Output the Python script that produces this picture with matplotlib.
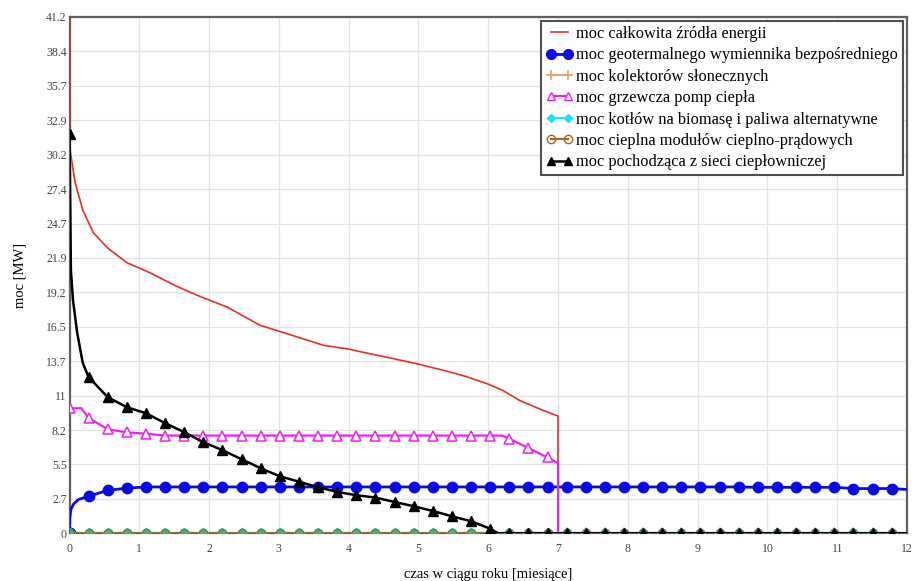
import numpy as np
import matplotlib
matplotlib.use("Agg")
import matplotlib.pyplot as plt
from matplotlib.lines import Line2D

plt.rcParams['font.family'] = ['Liberation Serif', 'DejaVu Serif']

# ---- axis setup -------------------------------------------------------------
x_ticks = list(range(0, 13))
y_tick_labels = ["0", "2.7", "5.5", "8.2", "11", "13.7", "16.5", "19.2",
                 "21.9", "24.7", "27.4", "30.2", "32.9", "35.7", "38.4", "41.2"]
y_max = 41.2

# markers are placed every 200 hours of an 8760-hour year (730 h per month)
marker_hours = np.arange(0, 8760, 200)
mark_x = marker_hours / 730.0

# ---- total heat demand (no markers) ----------------------------------------
total_x = [0, 0.003, 0.03, 0.08, 0.19, 0.34, 0.54, 0.82, 1.15, 1.54, 1.87,
           2.26, 2.73, 3.02, 3.3, 3.64, 4.0, 4.16, 4.59, 5.0, 5.4, 5.69, 6.0,
           6.21, 6.45, 6.79, 7.0, 7.0]
total_y = [41.2, 30.8, 29.8, 28.0, 25.8, 24.0, 22.8, 21.6, 20.8, 19.7, 18.9,
           18.05, 16.6, 16.1, 15.6, 15.0, 14.7, 14.5, 14.0, 13.5, 12.95, 12.5,
           11.9, 11.4, 10.6, 9.8, 9.35, 0]

# ---- geothermal exchanger ---------------------------------------------------
geo_mark = ([0, 2.96, 3.43, 3.6] + [3.7] * 32 + [3.67] * 5 + [3.57] * 3)
geo_extra_x = [0.004, 0.02, 0.06, 0.13, 12.0]
geo_extra_y = [1.2, 1.9, 2.35, 2.7, 3.5]

# ---- heat pumps -------------------------------------------------------------
hp_mark = ([9.98, 9.2, 8.3, 8.05, 7.95] + [7.8] * 18 +
           [7.55, 6.8, 6.05] + [0] * 18)
hp_extra_x = [0.17, 6.2, 7.0, 7.0, 12.0]
hp_extra_y = [9.98, 7.8, 5.6, 0, 0]

# ---- district heating network -----------------------------------------------
net_mark = ([31.9, 12.46, 10.86, 10.06, 9.58, 8.79, 8.07, 7.27, 6.63, 5.91,
             5.19, 4.55, 4.12, 3.68, 3.3, 3.04, 2.85, 2.5, 2.16, 1.78, 1.36,
             0.96, 0.37] + [0] * 21)
net_extra_x = [0.02, 0.05, 0.11, 0.19, 6.14, 12.0]
net_extra_y = [21.0, 18.6, 16.0, 13.6, 0, 0]

# ---- sources that stay at zero -------------------------------------------------
solar_mark = [0] * len(mark_x)
biomass_mark = [0] * len(mark_x)
chp_mark = [0] * len(mark_x)

labels = ["moc całkowita źródła energii",
          "moc geotermalnego wymiennika bezpośredniego",
          "moc kolektorów słonecznych",
          "moc grzewcza pomp ciepła",
          "moc kotłów na biomasę i paliwa alternatywne",
          "moc cieplna modułów cieplno-prądowych",
          "moc pochodząca z sieci ciepłowniczej"]

C_RED = "#e8302a"
C_BLUE = "#0a0ae6"
C_ORANGE = "#f0a060"
C_MAG = "#f020f0"
C_CYAN = "#18e0f0"
C_BROWN = "#a8642a"
C_BLACK = "#000000"


def merged(mx, my, ex, ey):
    """Join marker samples with the extra line vertices, ordered by time."""
    pts = sorted(zip(list(mx) + list(ex), list(my) + list(ey)),
                 key=lambda p: p[0])
    return [p[0] for p in pts], [p[1] for p in pts]


fig = plt.figure(figsize=(9.17, 5.81), dpi=100)
ax = fig.add_axes([69.5 / 917, 1 - 533.3 / 581, (907 - 69.5) / 917,
                   (533.3 - 17) / 581])

ax.set_xlim(0, 12)
ax.set_ylim(0, y_max)
ax.set_xticks(x_ticks)
ax.set_xticklabels([str(t) for t in x_ticks])
ax.set_yticks(np.linspace(0, y_max, len(y_tick_labels)))
ax.set_yticklabels(y_tick_labels)
ax.tick_params(axis='both', length=0, labelsize=8.5, colors="#444444")
ax.tick_params(axis='x', pad=7)
ax.tick_params(axis='y', pad=2)
ax.grid(True, color="#e3e3e3", linewidth=0.9)
ax.set_axisbelow(True)
for side in ax.spines.values():
    side.set_color("#606060")
    side.set_linewidth(1.6)

# total
ax.plot(total_x, total_y, color=C_RED, lw=1.2, zorder=3)

# geothermal
gx, gy = merged(mark_x, geo_mark, geo_extra_x, geo_extra_y)
ax.plot(gx, gy, color=C_BLUE, lw=2.0, zorder=4)
ax.plot(mark_x, geo_mark, ls="none", marker="o", ms=7.5, color=C_BLUE,
        zorder=4)

# solar collectors
ax.plot([0, 12], [0, 0], color=C_ORANGE, lw=1.5, zorder=5)
ax.plot(mark_x, solar_mark, ls="none", marker="+", ms=7, mew=1.2,
        color=C_ORANGE, zorder=5)

# heat pumps
hx, hy = merged(mark_x, hp_mark, hp_extra_x, hp_extra_y)
ax.plot(hx, hy, color=C_MAG, lw=1.6, zorder=6)
ax.plot(mark_x, hp_mark, ls="none", marker="^", ms=7, mfc="white",
        mec=C_MAG, mew=1.1, zorder=6)

# biomass boilers
ax.plot([0, 12], [0, 0], color=C_CYAN, lw=1.2, zorder=7)
ax.plot(mark_x, biomass_mark, ls="none", marker="D", ms=5, color=C_CYAN,
        zorder=7)

# CHP modules
ax.plot([0, 12], [0, 0], color=C_BROWN, lw=1.2, zorder=8)
ax.plot(mark_x, chp_mark, ls="none", marker="o", ms=6, mfc="#5aaa6a",
        mec="#4a8a4a", mew=1.0, zorder=8)

# district heating
nx, ny = merged(mark_x, net_mark, net_extra_x, net_extra_y)
ax.plot(nx, ny, color=C_BLACK, lw=1.8, zorder=9)
ax.plot(mark_x, net_mark, ls="none", marker="^", ms=6.5, color=C_BLACK,
        zorder=9)

ax.set_xlabel("czas w ciągu roku [miesiące]", fontsize=10.5, labelpad=9)
ax.set_ylabel("moc [MW]", fontsize=10.5, labelpad=14)

handles = [
    Line2D([], [], color=C_RED, lw=1.2),
    Line2D([], [], color=C_BLUE, lw=2.0, marker="o", ms=7),
    Line2D([], [], color=C_ORANGE, lw=1.5, marker="+", ms=7, mew=1.2),
    Line2D([], [], color=C_MAG, lw=1.6, marker="^", ms=6, mfc="white",
           mec=C_MAG),
    Line2D([], [], color=C_CYAN, lw=1.5, marker="D", ms=4.5),
    Line2D([], [], color=C_BROWN, lw=1.5, marker="o", ms=6, mfc="none",
           mec=C_BROWN),
    Line2D([], [], color=C_BLACK, lw=1.8, marker="^", ms=6),
]
leg = ax.legend(handles, labels, loc="upper right", fontsize=11.75,
                numpoints=2, handlelength=1.65, handletextpad=0.2,
                labelspacing=0.33, borderaxespad=0.25, borderpad=0.3,
                fancybox=False, framealpha=1, edgecolor="#505050")
leg.get_frame().set_linewidth(1.5)
leg.set_zorder(20)

fig.savefig("out.png", dpi=100)
